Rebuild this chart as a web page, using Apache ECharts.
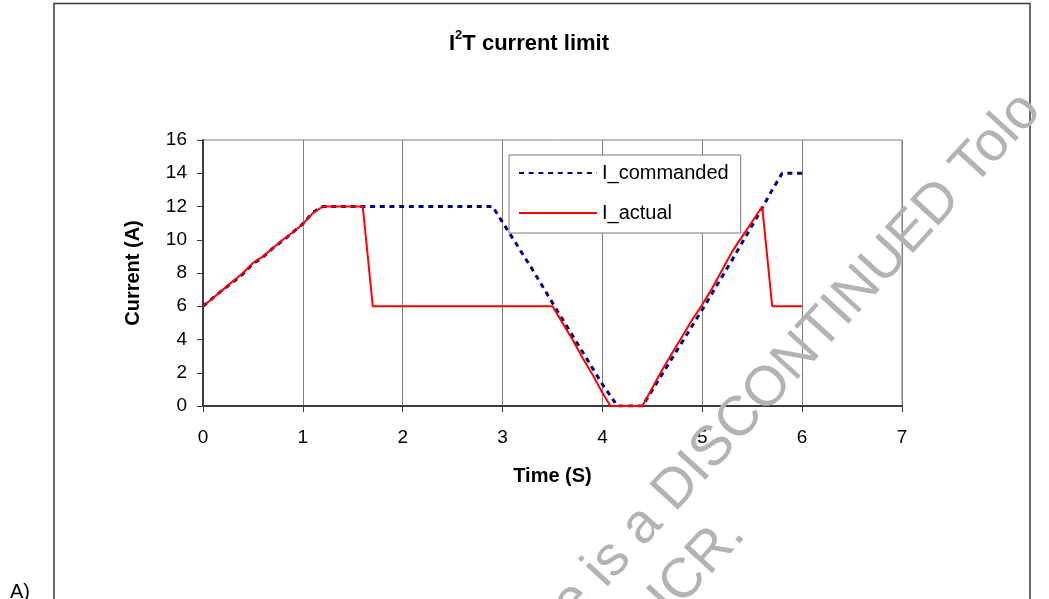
<!DOCTYPE html>
<html>
<head>
<meta charset="utf-8">
<script src="https://cdn.jsdelivr.net/npm/echarts@6/dist/echarts.min.js"></script>
<style>
  html, body { margin: 0; padding: 0; background: #fff; }
  #chart { width: 1049px; height: 599px; }
</style>
</head>
<body>
<div id="chart"></div>
<script>
// Commanded current profile (time in s, current in A)
const timeCommanded = [0, 0.1, 0.2, 0.3, 0.4, 0.5, 0.6, 0.7, 0.8, 0.9, 1.0, 1.1, 1.2,
  2.9, 3.3, 3.5, 4.0, 4.15, 4.4, 4.7, 5.0, 5.3, 5.6, 5.7, 5.8, 6.0];
const currentCommanded = [6, 6.5, 7, 7.45, 7.95, 8.55, 8.95, 9.5, 9.95, 10.45, 10.95, 11.65, 12,
  12, 8.2, 6.2, 1.3, 0, 0, 2.9, 5.8, 8.8, 11.9, 13.0, 14, 14];

// Actual current after the I2T limiter
const timeActual = [0, 0.1, 0.2, 0.3, 0.4, 0.5, 0.6, 0.7, 0.8, 0.9, 1.0, 1.1, 1.2,
  1.6, 1.7, 3.5, 3.6, 3.7, 3.8, 3.9, 4.0, 4.08, 4.4, 4.5, 4.6, 4.7, 4.8, 4.9, 5.0,
  5.1, 5.2, 5.3, 5.4, 5.5, 5.6, 5.7, 6.0];
const currentActual = [6, 6.5, 7, 7.5, 8, 8.6, 9, 9.5, 10, 10.45, 10.95, 11.6, 12,
  12, 6, 6, 5.0, 4.0, 2.9, 1.9, 0.8, 0, 0, 1.1, 2.2, 3.2, 4.2, 5.2, 6.1,
  7.1, 8.2, 9.3, 10.2, 11.1, 12, 6, 6];

const seriesNames = ['I_commanded', 'I_actual'];
const xTicks = { min: 0, max: 7, step: 1 };
const yTicks = { min: 0, max: 16, step: 2 };

const zip = (xs, ys) => xs.map((x, i) => [x, ys[i]]);

const FONT = '"Liberation Sans", Arial, sans-serif';
const axisDark = '#3c3c3c';
const gridGrey = '#808080';
const wmColor = '#b3b3b3';
const wmAngle = 47.5 * Math.PI / 180;

const chart = echarts.init(document.getElementById('chart'), null, { renderer: 'canvas' });

chart.setOption({
  backgroundColor: '#fff',
  animation: false,
  title: {
    text: '{a|I}{s|2}{a|T current limit}',
    left: 444,
    top: 24,
    textStyle: {
      rich: {
        a: { fontFamily: FONT, fontWeight: 'bold', fontSize: 22, color: '#000', lineHeight: 26, verticalAlign: 'bottom' },
        s: { fontFamily: FONT, fontWeight: 'bold', fontSize: 13, color: '#000', lineHeight: 26, verticalAlign: 'top' }
      }
    }
  },
  legend: {
    orient: 'vertical',
    left: 509,
    top: 155,
    padding: [8, 12, 10, 9],
    itemWidth: 78,
    itemHeight: 20,
    itemGap: 20,
    backgroundColor: '#fff',
    borderColor: '#7a7a7a',
    borderWidth: 1,
    borderRadius: 0,
    // line samples only, no marker in the middle
    itemStyle: { opacity: 0 },
    lineStyle: { opacity: 1 },
    textStyle: { fontFamily: FONT, fontSize: 20, color: '#000' },
    data: seriesNames
  },
  grid: {
    left: 203, right: 147, top: 140, bottom: 193,
    show: true,
    borderColor: gridGrey,
    borderWidth: 1,
    containLabel: false
  },
  xAxis: {
    type: 'value',
    min: xTicks.min, max: xTicks.max, interval: xTicks.step,
    name: 'Time (S)',
    nameLocation: 'middle',
    nameGap: 60,
    nameTextStyle: { fontFamily: FONT, fontWeight: 'bold', fontSize: 20, color: '#000' },
    axisLine: { show: true, onZero: false, lineStyle: { color: axisDark, width: 2 } },
    axisTick: { show: true, inside: false, length: 6, lineStyle: { color: axisDark, width: 1 } },
    axisLabel: { margin: 22, fontFamily: FONT, fontSize: 19, color: '#000' },
    splitLine: { show: true, lineStyle: { color: gridGrey, width: 1 } }
  },
  yAxis: {
    type: 'value',
    min: yTicks.min, max: yTicks.max, interval: yTicks.step,
    name: 'Current (A)',
    nameLocation: 'middle',
    nameGap: 60,
    nameRotate: 90,
    nameTextStyle: { fontFamily: FONT, fontWeight: 'bold', fontSize: 20, color: '#000' },
    axisLine: { show: true, onZero: false, lineStyle: { color: axisDark, width: 2 } },
    axisTick: { show: true, inside: false, length: 6, lineStyle: { color: axisDark, width: 1 } },
    axisLabel: { margin: 16, fontFamily: FONT, fontSize: 19, color: '#000' },
    splitLine: { show: false }
  },
  series: [
    {
      name: seriesNames[0],
      type: 'line',
      data: zip(timeCommanded, currentCommanded),
      symbol: 'none',
      showSymbol: false,
      lineStyle: { color: '#000080', width: 3, type: [5, 4.7] },
      itemStyle: { color: '#000080' },
      z: 2
    },
    {
      name: seriesNames[1],
      type: 'line',
      data: zip(timeActual, currentActual),
      symbol: 'none',
      showSymbol: false,
      lineStyle: { color: '#ff0000', width: 2 },
      itemStyle: { color: '#ff0000' },
      z: 3
    }
  ],
  graphic: [
    {
      type: 'rect', silent: true, z: -10,
      shape: { x: 54, y: 3.5, width: 976, height: 700 },
      style: { fill: 'none', stroke: '#3a3a3a', lineWidth: 1.5 }
    },
    {
      type: 'text', silent: true, x: 10, y: 582,
      style: { text: 'A)', font: '20px ' + FONT, fill: '#000' }
    },
    {
      type: 'text', silent: true, z: 100, x: 583, y: 632, rotation: wmAngle,
      style: { text: 'e is a DISCONTINUED Tolo', font: '56px ' + FONT, fill: wmColor, align: 'left', verticalAlign: 'bottom' }
    },
    {
      type: 'text', silent: true, z: 100, x: 756, y: 544, rotation: wmAngle,
      style: { text: 'ICR.', font: '56px ' + FONT, fill: wmColor, align: 'right', verticalAlign: 'bottom' }
    }
  ]
});
</script>
</body>
</html>
